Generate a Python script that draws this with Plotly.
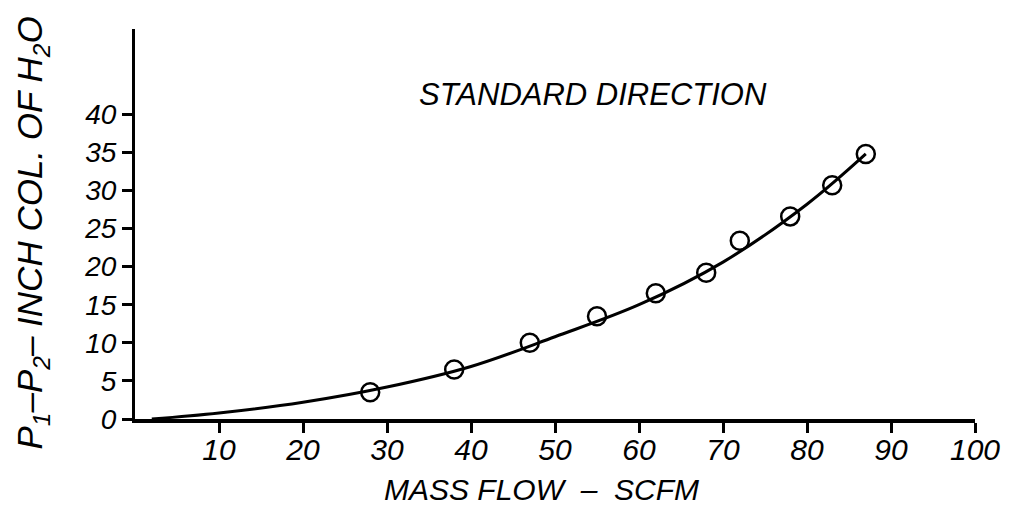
import plotly.graph_objects as go

flow = [28, 38, 47, 55, 62, 68, 72, 78, 83, 87]
dp = [3.5, 6.5, 10.0, 13.5, 16.5, 19.2, 23.4, 26.6, 30.7, 34.8]
curve_x = [2, 10, 20, 30, 40, 50, 60, 70, 80, 87]
curve_y = [0, 0.8, 2.2, 4.2, 6.9, 10.8, 15.0, 20.6, 28.2, 34.8]
x_ticks = [10, 20, 30, 40, 50, 60, 70, 80, 90, 100]
y_ticks = [0, 5, 10, 15, 20, 25, 30, 35, 40]

FONT = "Liberation Sans, Arial, sans-serif"
# page body has an 8px margin, so the figure is shifted by 8px
W, H = 1004, 506
L, R, T, B = 127, 37, 21, 95

fig = go.Figure()
fig.add_trace(go.Scatter(x=curve_x, y=curve_y, mode="lines",
                         line=dict(color="black", width=3, shape="spline", smoothing=1.0),
                         hoverinfo="skip", showlegend=False))
fig.add_trace(go.Scatter(x=flow, y=dp, mode="markers",
                         marker=dict(symbol="circle-open", size=18, color="black",
                                     line=dict(width=2.5, color="black")),
                         showlegend=False))

fig.update_layout(
    width=W, height=H,
    margin=dict(l=L, r=R, t=T, b=B, autoexpand=False),
    plot_bgcolor="white", paper_bgcolor="white",
    font=dict(family=FONT, color="black", style="italic"),
    showlegend=False,
    annotations=[
        dict(text="STANDARD DIRECTION", x=0.545, y=0.831, xref="paper", yref="paper",
             xanchor="center", yanchor="middle", showarrow=False,
             font=dict(size=31, family=FONT, style="italic")),
        dict(text="MASS FLOW  \u2013  SCFM", x=0.484, y=-0.1795, xref="paper", yref="paper",
             xanchor="center", yanchor="middle", showarrow=False,
             font=dict(size=30, family=FONT, style="italic")),
        dict(text="P<sub>1</sub>\u2013P<sub>2</sub>\u2013 INCH COL. OF H<sub>2</sub>O",
             x=-0.1226, y=0.4756, xref="paper", yref="paper", textangle=-90,
             xanchor="center", yanchor="middle", showarrow=False,
             font=dict(size=35, family=FONT, style="italic")),
    ],
)
fig.update_xaxes(range=[0, 100], tickvals=x_ticks, ticktext=[str(v) for v in x_ticks],
                 ticks="outside", ticklen=10, tickwidth=2.5, tickcolor="black",
                 showline=True, linewidth=3.5, linecolor="black",
                 showgrid=False, zeroline=False, ticklabelstandoff=-9,
                 tickfont=dict(size=30, family=FONT, style="italic"))
fig.update_yaxes(range=[0, 51.2], tickvals=y_ticks, ticktext=[str(v) for v in y_ticks],
                 ticks="outside", ticklen=10, tickwidth=2.5, tickcolor="black",
                 showline=True, linewidth=3, linecolor="black",
                 showgrid=False, zeroline=False,
                 tickfont=dict(size=28, family=FONT, style="italic"))

fig.write_html("out.html")
